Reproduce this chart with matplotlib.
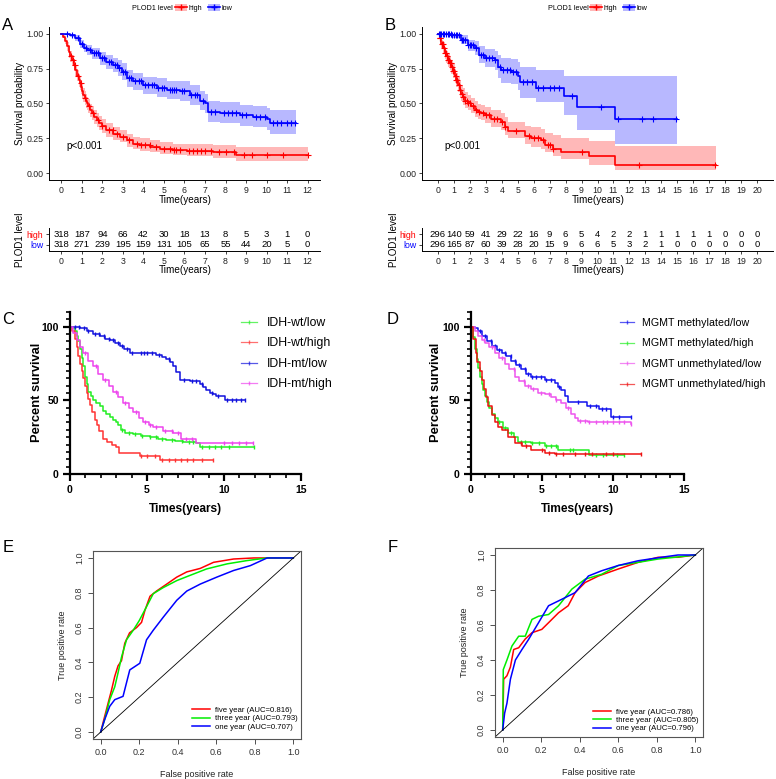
import numpy as np
import matplotlib
matplotlib.use("Agg")
import matplotlib.pyplot as plt
from matplotlib.patches import Patch
from matplotlib.lines import Line2D

plt.rcParams['font.family'] = ['Liberation Sans', 'DejaVu Sans']

# ---------------- data ----------------
# panel A (KM, PLOD1 high / low)
a_high_t = [0, 0.1, 0.2, 0.3, 0.37, 0.44, 0.52, 0.6, 0.68, 0.78, 0.87, 0.92, 0.97, 1.03, 1.08, 1.13, 1.18, 1.23,
            1.28, 1.38, 1.49, 1.6, 1.73, 1.85, 1.98, 2.2, 2.54, 2.87, 3.19, 3.5, 3.84, 4.32, 4.8, 5.46, 6.1, 7.4,
            8.5, 12.0]
a_high_s = [1.0, 0.98, 0.95, 0.91, 0.87, 0.84, 0.81, 0.78, 0.74, 0.70, 0.67, 0.645, 0.62, 0.59, 0.56, 0.54, 0.52,
            0.50, 0.48, 0.45, 0.43, 0.40, 0.38, 0.36, 0.34, 0.31, 0.28, 0.26, 0.235, 0.21, 0.20, 0.19, 0.175, 0.165,
            0.16, 0.15, 0.13, 0.13]
a_high_hi = [1.0, 0.99, 0.97, 0.94, 0.91, 0.88, 0.85, 0.82, 0.78, 0.74, 0.71, 0.69, 0.67, 0.64, 0.61, 0.59, 0.57,
             0.55, 0.53, 0.50, 0.48, 0.45, 0.43, 0.41, 0.39, 0.36, 0.33, 0.31, 0.28, 0.26, 0.25, 0.24, 0.22, 0.21,
             0.21, 0.20, 0.19, 0.19]
a_high_lo = [1.0, 0.97, 0.93, 0.88, 0.83, 0.80, 0.77, 0.74, 0.70, 0.66, 0.62, 0.60, 0.57, 0.54, 0.51, 0.49, 0.47,
             0.45, 0.43, 0.40, 0.38, 0.35, 0.33, 0.31, 0.29, 0.26, 0.24, 0.22, 0.19, 0.17, 0.16, 0.15, 0.14, 0.13,
             0.12, 0.11, 0.085, 0.085]
a_high_cens = [0.45, 0.55, 0.65, 0.8, 0.95, 1.15, 1.35, 1.55, 1.8, 2.0, 2.3, 2.5, 2.7, 3.0, 3.3, 3.7, 3.9, 4.1, 4.3,
               4.6, 5.0, 5.3, 5.5, 5.6, 5.8, 6.2, 6.4, 6.6, 6.8, 7.0, 7.3, 7.7, 8.0, 8.4, 8.9, 9.3, 10.0, 10.8, 12.0]

a_low_t = [0, 0.44, 0.68, 0.92, 1.1, 1.25, 1.5, 1.9, 2.2, 2.54, 2.75, 2.95, 3.19, 3.5, 4.0, 4.65, 5.13, 5.78, 6.27,
           6.75, 7.0, 7.16, 7.72, 8.7, 9.34, 10.0, 10.15, 11.45]
a_low_s = [1.0, 0.99, 0.97, 0.93, 0.90, 0.885, 0.86, 0.825, 0.80, 0.78, 0.755, 0.73, 0.68, 0.66, 0.63, 0.615, 0.596,
           0.59, 0.56, 0.52, 0.50, 0.44, 0.43, 0.415, 0.40, 0.385, 0.36, 0.36]
a_low_hi = [1.0, 1.0, 0.99, 0.96, 0.93, 0.92, 0.90, 0.87, 0.85, 0.83, 0.81, 0.79, 0.74, 0.72, 0.69, 0.68, 0.66, 0.66,
            0.63, 0.59, 0.57, 0.52, 0.51, 0.49, 0.48, 0.47, 0.45, 0.45]
a_low_lo = [1.0, 0.98, 0.95, 0.90, 0.87, 0.85, 0.82, 0.78, 0.75, 0.73, 0.70, 0.67, 0.62, 0.60, 0.57, 0.55, 0.53, 0.52,
            0.49, 0.45, 0.43, 0.37, 0.36, 0.34, 0.33, 0.31, 0.28, 0.28]
a_low_cens = [0.3, 0.5, 0.8, 1.0, 1.2, 1.4, 1.6, 1.7, 1.8, 2.0, 2.1, 2.3, 2.4, 2.6, 2.7, 2.8, 3.0, 3.1, 3.3, 3.4, 3.6,
              3.8, 3.9, 4.1, 4.2, 4.4, 4.5, 4.7, 4.9, 5.0, 5.3, 5.4, 5.5, 5.6, 5.9, 6.0, 6.3, 6.5, 6.6, 6.9, 7.3, 7.5,
              7.9, 8.1, 8.3, 8.5, 8.8, 9.0, 9.5, 9.7, 9.9, 10.3, 10.5, 10.7, 11.0, 11.2, 11.4]

# panel B
b_high_t = [0, 0.1, 0.2, 0.31, 0.42, 0.52, 0.63, 0.73, 0.84, 0.94, 1.04, 1.15, 1.25, 1.36, 1.46, 1.57, 1.67, 1.88,
            2.09, 2.3, 2.5, 2.72, 2.93, 3.34, 3.97, 4.18, 4.39, 5.43, 5.85, 6.48, 6.69, 7.2, 7.73, 9.45, 11.08, 17.45]
b_high_s = [1.0, 0.97, 0.93, 0.90, 0.86, 0.84, 0.81, 0.79, 0.76, 0.735, 0.70, 0.67, 0.63, 0.60, 0.57, 0.55, 0.52,
            0.50, 0.48, 0.455, 0.44, 0.43, 0.415, 0.39, 0.37, 0.33, 0.30, 0.265, 0.25, 0.235, 0.205, 0.175, 0.15,
            0.12, 0.06, 0.06]
b_high_hi = [1.0, 0.99, 0.96, 0.94, 0.90, 0.88, 0.86, 0.84, 0.81, 0.79, 0.75, 0.72, 0.69, 0.66, 0.63, 0.61, 0.58,
             0.56, 0.54, 0.52, 0.50, 0.49, 0.475, 0.45, 0.43, 0.40, 0.37, 0.34, 0.33, 0.32, 0.29, 0.27, 0.25, 0.23,
             0.195, 0.195]
b_high_lo = [1.0, 0.95, 0.90, 0.86, 0.82, 0.79, 0.76, 0.74, 0.71, 0.68, 0.65, 0.62, 0.58, 0.55, 0.52, 0.49, 0.47,
             0.45, 0.43, 0.40, 0.39, 0.38, 0.36, 0.33, 0.31, 0.27, 0.25, 0.21, 0.19, 0.17, 0.15, 0.12, 0.10, 0.06,
             0.02, 0.02]
b_high_cens = [0.1, 0.15, 0.25, 0.3, 0.35, 0.45, 0.5, 0.55, 0.65, 0.7, 0.75, 0.8, 0.9, 0.95, 1.0, 1.1, 1.15, 1.2,
               1.3, 1.4, 1.5, 1.6, 1.7, 1.8, 1.9, 2.0, 2.2, 2.4, 2.6, 2.8, 3.0, 3.2, 3.5, 3.7, 4.0, 4.2, 4.9, 5.7,
               6.0, 6.3, 6.6, 6.9, 7.0, 7.2, 9.0, 12.6, 17.35]
b_low_t = [0, 0.84, 1.46, 1.88, 2.3, 2.6, 2.93, 3.55, 3.76, 3.97, 4.6, 5.0, 5.12, 6.17, 7.9, 8.69, 11.08, 15.0]
b_low_s = [1.0, 0.99, 0.96, 0.92, 0.90, 0.85, 0.83, 0.81, 0.765, 0.74, 0.73, 0.70, 0.655, 0.615, 0.555, 0.475, 0.385,
           0.385]
b_low_hi = [1.0, 1.0, 0.99, 0.96, 0.95, 0.91, 0.89, 0.88, 0.85, 0.83, 0.82, 0.80, 0.76, 0.74, 0.70, 0.70, 0.70, 0.70]
b_low_lo = [1.0, 0.97, 0.93, 0.88, 0.85, 0.79, 0.76, 0.74, 0.68, 0.65, 0.64, 0.60, 0.54, 0.51, 0.42, 0.31, 0.21, 0.21]
b_low_cens = [0.05, 0.1, 0.2, 0.3, 0.4, 0.5, 0.6, 0.7, 0.8, 0.9, 1.0, 1.1, 1.2, 1.3, 1.5, 1.6, 1.7, 1.9, 2.0, 2.1,
              2.2, 2.4, 2.7, 2.8, 3.0, 3.2, 3.4, 3.6, 3.9, 4.1, 4.3, 4.5, 4.7, 4.9, 5.3, 5.6, 5.9, 6.3, 6.6, 7.0,
              7.3, 7.6, 8.4, 10.2, 11.3, 12.8, 13.5, 14.95]

# number at risk tables
a_tab_t = list(range(0, 13))
a_tab_high = [318, 187, 94, 66, 42, 30, 18, 13, 8, 5, 3, 1, 0]
a_tab_low = [318, 271, 239, 195, 159, 131, 105, 65, 55, 44, 20, 5, 0]
b_tab_t = list(range(0, 21))
b_tab_high = [296, 140, 59, 41, 29, 22, 16, 9, 6, 5, 4, 2, 2, 1, 1, 1, 1, 1, 0, 0, 0]
b_tab_low = [296, 165, 87, 60, 39, 28, 20, 15, 9, 6, 6, 5, 3, 2, 1, 0, 0, 0, 0, 0, 0]

# panel C (IDH x PLOD1)
c_wtlow_t = [0, 0.2, 0.32, 0.45, 0.54, 0.65, 0.76, 0.87, 0.97, 1.08, 1.19, 1.35, 1.5, 1.7, 1.94, 2.15, 2.37, 2.6,
             2.8, 3.0, 3.13, 3.28, 3.6, 4.1, 4.6, 5.18, 5.7, 6.26, 6.8, 7.34, 8.2, 8.42, 11.94]
c_wtlow_s = [100, 99, 97, 94, 90, 85, 79, 73, 66, 61, 56, 53, 50, 48, 46, 43, 41, 39, 37, 35, 33, 30, 28, 27, 26,
             25, 24, 23, 22.5, 22, 21, 18.6, 18.6]
c_wtlow_cens = [3.4, 3.8, 4.2, 4.7, 5.2, 5.6, 6.0, 6.6, 7.3, 7.7, 8.0, 8.6, 9.0, 9.4, 9.8, 10.3, 11.94]
c_wthigh_t = [0, 0.15, 0.3, 0.43, 0.55, 0.65, 0.75, 0.86, 0.97, 1.08, 1.19, 1.3, 1.45, 1.6, 1.73, 1.9, 2.16, 2.4,
              2.7, 3.0, 3.2, 4.54, 5.83, 9.29]
c_wthigh_s = [100, 97, 92, 86, 80, 75, 70, 65, 60, 55, 51, 47, 42, 37, 33, 29, 24, 22, 20, 18, 14.5, 12.5, 9.5, 9.5]
c_wthigh_cens = [4.6, 5.0, 5.5, 6.0, 6.4, 6.8, 7.2, 7.6, 8.0, 8.6, 9.29]
c_mtlow_t = [0, 0.65, 1.08, 1.5, 1.94, 2.3, 2.6, 2.9, 3.24, 3.5, 3.89, 4.75, 5.6, 6.0, 6.26, 6.5, 6.7, 6.9, 7.13,
             7.78, 8.42, 8.65, 8.86, 9.1, 9.29, 9.5, 10.04, 11.38]
c_mtlow_s = [100, 99, 97, 95, 94, 92, 91, 89, 87, 85, 82, 82, 81, 79.5, 78, 76, 73, 69, 64, 63, 61, 59, 57, 55, 54,
             53, 50, 50]
c_mtlow_cens = [0.3, 0.6, 0.9, 1.2, 1.6, 1.9, 2.2, 2.5, 2.8, 3.1, 3.4, 3.7, 4.0, 4.6, 4.8, 5.0, 5.3, 5.8, 6.4,
                7.4, 7.9, 8.2, 8.6, 9.2, 9.6, 10.2, 10.5, 10.8, 11.1, 11.38]
c_mthigh_t = [0, 0.2, 0.43, 0.65, 0.86, 1.2, 1.51, 1.85, 2.16, 2.5, 2.8, 3.1, 3.46, 3.8, 4.1, 4.45, 4.75, 5.1, 5.4,
              6.05, 6.7, 7.24, 8.2, 11.88]
c_mthigh_s = [100, 96, 91, 86, 82, 77, 73, 68, 64, 60, 56, 52, 48, 45, 42, 38, 35, 33, 32, 29, 28, 24, 21, 21]
c_mthigh_cens = [1.0, 1.7, 2.3, 3.0, 3.6, 4.3, 4.9, 5.2, 5.6, 6.2, 6.6, 7.0, 7.5, 7.9, 10.0, 10.5, 11.0, 11.4, 11.88]

# panel D (MGMT x PLOD1)
d_mlow_t = [0, 0.28, 0.5, 0.75, 1.1, 1.45, 1.8, 2.15, 2.5, 2.85, 3.2, 3.55, 3.9, 4.25, 5.19, 5.89, 6.1, 6.36, 6.6,
            6.82, 8.2, 9.0, 9.86, 11.26]
d_mlow_s = [100, 99, 97, 94, 90, 87, 84, 82, 80, 77, 74, 71, 68, 66, 64, 62, 59, 57, 53, 49, 46, 44, 39, 39]
d_mlow_cens = [0.6, 1.0, 1.4, 1.7, 2.0, 2.4, 2.8, 3.1, 3.4, 3.8, 4.0, 4.3, 4.6, 4.9, 5.3, 5.6, 6.2, 7.5, 8.4,
               8.8, 9.2, 9.5, 10.0, 10.4, 11.26]
d_ulow_t = [0, 0.25, 0.51, 0.75, 0.98, 1.3, 1.68, 2.0, 2.38, 2.7, 3.08, 3.4, 3.79, 4.2, 4.72, 5.2, 5.65, 6.0, 6.36,
            6.7, 7.06, 7.3, 7.52, 8.22, 11.26]
d_ulow_s = [100, 97, 94, 91, 89, 86, 82, 79, 75, 71, 66, 63, 60, 58, 55, 54, 52, 50, 48, 45, 41, 38, 36, 35, 34]
d_ulow_cens = [0.9, 1.5, 2.2, 3.0, 3.7, 4.0, 4.4, 4.9, 5.5, 6.0, 6.8, 7.7, 8.0, 8.3, 8.8, 9.3, 9.6, 10.0, 10.4,
               10.8, 11.26]
d_mhigh_t = [0, 0.15, 0.28, 0.4, 0.5, 0.63, 0.75, 0.86, 0.98, 1.1, 1.25, 1.45, 1.7, 1.92, 2.25, 2.62, 3.0, 3.32,
             4.25, 5.19, 6.12, 8.34, 10.8]
d_mhigh_s = [100, 93, 85, 78, 72, 66, 61, 57, 53, 49, 45, 41, 38, 35, 31, 28, 25, 22, 21, 19, 16.4, 13, 13]
d_mhigh_cens = [2.0, 2.4, 2.8, 3.5, 3.8, 4.3, 4.8, 5.3, 5.6, 6.0, 7.0, 7.2, 8.8, 9.3, 10.3, 10.8]
d_uhigh_t = [0, 0.15, 0.33, 0.45, 0.6, 0.75, 0.9, 1.05, 1.21, 1.45, 1.68, 1.9, 2.15, 2.62, 3.08, 3.6, 4.25, 5.19,
             5.89, 11.96]
d_uhigh_s = [100, 92, 82, 76, 70, 64, 58, 52, 46, 40, 35, 32, 30, 25, 21, 19, 16.4, 14.5, 13.4, 13.4]
d_uhigh_cens = [3.5, 3.9, 5.0, 5.5, 6.0, 6.5, 7.3, 8.0, 8.5, 9.5, 10.0, 11.96]

# panel E (ROC)
e5_fpr = [0, 0.012, 0.03, 0.056, 0.073, 0.09, 0.108, 0.125, 0.15, 0.186, 0.212, 0.23, 0.256, 0.29, 0.343, 0.395,
          0.447, 0.517, 0.586, 0.69, 0.795, 1.0]
e5_tpr = [0, 0.053, 0.13, 0.24, 0.32, 0.38, 0.41, 0.51, 0.57, 0.60, 0.63, 0.70, 0.78, 0.81, 0.85, 0.89, 0.92, 0.94,
          0.975, 0.994, 1.0, 1.0]
e3_fpr = [0, 0.02, 0.047, 0.073, 0.09, 0.108, 0.134, 0.169, 0.2, 0.238, 0.273, 0.325, 0.395, 0.464, 0.55, 0.656,
          0.76, 0.864, 1.0]
e3_tpr = [0, 0.07, 0.186, 0.26, 0.34, 0.43, 0.53, 0.585, 0.64, 0.72, 0.795, 0.83, 0.87, 0.90, 0.937, 0.966, 0.985,
          1.0, 1.0]
e1_fpr = [0, 0.02, 0.047, 0.073, 0.116, 0.151, 0.203, 0.238, 0.273, 0.325, 0.395, 0.447, 0.517, 0.603, 0.69,
          0.777, 0.864, 1.0]
e1_tpr = [0, 0.07, 0.148, 0.186, 0.205, 0.357, 0.395, 0.53, 0.585, 0.66, 0.757, 0.81, 0.85, 0.89, 0.928, 0.956,
          1.0, 1.0]
e_labels = ['five year (AUC=0.816)', 'three year (AUC=0.793)', 'one year (AUC=0.707)']

# panel F (ROC)
f5_fpr = [0, 0.005, 0.022, 0.04, 0.057, 0.083, 0.117, 0.152, 0.203, 0.238, 0.29, 0.34, 0.376, 0.428, 0.497, 0.6,
          0.703, 0.807, 0.91, 1.0]
f5_tpr = [0, 0.29, 0.31, 0.36, 0.46, 0.47, 0.52, 0.556, 0.575, 0.613, 0.67, 0.71, 0.785, 0.843, 0.88, 0.92, 0.958,
          0.987, 0.987, 1.0]
f3_fpr = [0, 0.003, 0.022, 0.048, 0.083, 0.117, 0.152, 0.186, 0.238, 0.29, 0.359, 0.428, 0.514, 0.6, 0.703, 0.807,
          0.893, 1.0]
f3_tpr = [0, 0.345, 0.40, 0.48, 0.536, 0.536, 0.632, 0.65, 0.66, 0.71, 0.805, 0.862, 0.89, 0.94, 0.958, 0.977,
          0.987, 1.0]
f1_fpr = [0, 0.01, 0.022, 0.04, 0.066, 0.1, 0.134, 0.186, 0.238, 0.307, 0.376, 0.445, 0.514, 0.6, 0.703, 0.824,
          0.91, 1.0]
f1_tpr = [0, 0.096, 0.153, 0.29, 0.40, 0.46, 0.517, 0.613, 0.71, 0.747, 0.785, 0.88, 0.91, 0.94, 0.967, 0.987,
          1.0, 1.0]
f_labels = ['five year (AUC=0.786)', 'three year (AUC=0.805)', 'one year (AUC=0.796)']

# ---------------- figure ----------------
W, H = 776, 779
fig = plt.figure(figsize=(W / 100, H / 100), dpi=100)


def px_axes(left, top, right, bottom):
    return fig.add_axes([left / W, 1 - bottom / H, (right - left) / W, (bottom - top) / H])


def ftext(x, y, s, **kw):
    fig.text(x / W, 1 - y / H, s, **kw)


def step_at(t, s, c):
    idx = np.searchsorted(t, c, side='right') - 1
    return np.asarray(s)[idx]


def km_panel(left, right, xmax, curves, p_x):
    ax = px_axes(left, 27, right, 180)
    for t, s, lo, hi, cens, col in curves:
        ax.fill_between(t, lo, hi, step='post', color=col, alpha=0.28, lw=0)
        ax.step(t, s, where='post', color=col, lw=1.2)
        ax.plot(cens, step_at(t, s, cens), ls='none', marker='+', ms=5, mew=0.8, color=col)
    ax.set_xlim(-0.05 * xmax, 1.05 * xmax)
    ax.set_ylim(-0.05, 1.05)
    ax.set_xticks(range(0, xmax + 1))
    ax.set_yticks([0, 0.25, 0.5, 0.75, 1.0])
    ax.set_yticklabels(['0.00', '0.25', '0.50', '0.75', '1.00'])
    for sp in ['top', 'right']:
        ax.spines[sp].set_visible(False)
    for sp in ['left', 'bottom']:
        ax.spines[sp].set_linewidth(0.7)
    ax.tick_params(labelsize=6.3, length=2.5, width=0.6, pad=1.5, colors='#222222')
    ax.text(p_x, 0.195, 'p<0.001', fontsize=7.1, ha='left', va='center')
    return ax


def risk_table(left, right, xmax, tt, high, low):
    ax = px_axes(left, 228, right, 251)
    for t, h, l in zip(tt, high, low):
        ax.text(t, 2, str(h), ha='center', va='center', fontsize=6.8)
        ax.text(t, 1, str(l), ha='center', va='center', fontsize=6.8)
    ax.set_xlim(-0.05 * xmax, 1.05 * xmax)
    ax.set_ylim(0.45, 2.55)
    ax.set_xticks(range(0, xmax + 1))
    ax.set_yticks([1, 2])
    ax.set_yticklabels(['low', 'high'])
    for sp in ['top', 'right']:
        ax.spines[sp].set_visible(False)
    for sp in ['left', 'bottom']:
        ax.spines[sp].set_linewidth(0.7)
    ax.tick_params(labelsize=6.3, length=2.5, width=0.6, pad=1.5, colors='#222222')
    ax.get_yticklabels()[0].set_color('blue')
    ax.get_yticklabels()[1].set_color('red')
    return ax


def km_legend(x_title, x_leg):
    ftext(x_title, 8, 'PLOD1 level', fontsize=5.2, va='center', ha='left')
    hh = [(Patch(color='red', alpha=0.28, lw=0), Line2D([], [], color='red', lw=1.2, marker='+', ms=5)),
          (Patch(color='blue', alpha=0.28, lw=0), Line2D([], [], color='blue', lw=1.2, marker='+', ms=5))]
    fig.legend(hh, ['high', 'low'], loc='center left', bbox_to_anchor=(x_leg / W, 1 - 8 / H), ncol=2,
               frameon=False, fontsize=5.2, handlelength=1.6, handleheight=1.2, handletextpad=0.3,
               columnspacing=0.8, borderpad=0, borderaxespad=0)


# ---- A ----
km_panel(49, 320, 12, [(a_high_t, a_high_s, a_high_lo, a_high_hi, a_high_cens, 'red'),
                       (a_low_t, a_low_s, a_low_lo, a_low_hi, a_low_cens, 'blue')], 0.23)
risk_table(49, 320, 12, a_tab_t, a_tab_high, a_tab_low)
ftext(20, 103, 'Survival probability', rotation=90, fontsize=7.1, ha='center', va='center')
ftext(185, 200, 'Time(years)', fontsize=7.2, ha='center', va='center')
ftext(20, 240, 'PLOD1 level', rotation=90, fontsize=7, ha='center', va='center')
ftext(185, 270, 'Time(years)', fontsize=7.2, ha='center', va='center')
km_legend(132, 175)

# ---- B ----
km_panel(422, 773, 20, [(b_high_t, b_high_s, b_high_lo, b_high_hi, b_high_cens, 'red'),
                        (b_low_t, b_low_s, b_low_lo, b_low_hi, b_low_cens, 'blue')], 0.38)
risk_table(422, 773, 20, b_tab_t, b_tab_high, b_tab_low)
ftext(393, 103, 'Survival probability', rotation=90, fontsize=7.1, ha='center', va='center')
ftext(598, 200, 'Time(years)', fontsize=7.2, ha='center', va='center')
ftext(394, 240, 'PLOD1 level', rotation=90, fontsize=7, ha='center', va='center')
ftext(598, 270, 'Time(years)', fontsize=7.2, ha='center', va='center')
km_legend(548, 590)


# ---- C / D (Prism style) ----
def prism_panel(left, right, curves, ylab_x, xlab_x, leg_x, leg_fs, leg_sp, leg_top):
    ax = px_axes(left, 312, right, 474)
    handles = []
    for t, s, cens, col, lab in curves:
        ax.step(t, s, where='post', color=col, lw=1.1)
        ax.plot(cens, step_at(t, s, cens), ls='none', marker='|', ms=3.5, mew=1.0, color=col)
        handles.append(Line2D([], [], color=col, lw=0.9, alpha=0.7, marker='|', ms=3.5, mew=1.0,
                              markeredgecolor=col))
    ax.set_xlim(0, 15)
    ax.set_ylim(0, 110)
    ax.set_xticks([0, 5, 10, 15])
    ax.set_xticks(range(0, 16), minor=True)
    ax.set_yticks([0, 50, 100])
    ax.set_yticks(range(0, 111, 5), minor=True)
    for sp in ['top', 'right']:
        ax.spines[sp].set_visible(False)
    for sp in ['left', 'bottom']:
        ax.spines[sp].set_linewidth(1.6)
    ax.tick_params(which='major', length=5, width=1.6, labelsize=7.6, pad=3)
    ax.tick_params(which='minor', length=3, width=1.2)
    for lb in ax.get_xticklabels() + ax.get_yticklabels():
        lb.set_fontweight('bold')
    ftext(ylab_x, 392, 'Percent survival', rotation=90, fontsize=9.3, fontweight='bold', ha='center', va='center')
    ftext(xlab_x, 509, 'Times(years)', fontsize=8.6, fontweight='bold', ha='center', va='center')
    fig.legend(handles, [c[4] for c in curves], loc='upper left', bbox_to_anchor=(leg_x / W, 1 - leg_top / H),
               frameon=False, fontsize=leg_fs, handlelength=1.3, handletextpad=0.8, labelspacing=leg_sp,
               borderpad=0, borderaxespad=0)
    return ax


prism_panel(70, 301, [(c_wtlow_t, c_wtlow_s, c_wtlow_cens, '#22ee22', 'IDH-wt/low'),
                      (c_wthigh_t, c_wthigh_s, c_wthigh_cens, '#ff3333', 'IDH-wt/high'),
                      (c_mtlow_t, c_mtlow_s, c_mtlow_cens, '#1111dd', 'IDH-mt/low'),
                      (c_mthigh_t, c_mthigh_s, c_mthigh_cens, '#ee44ee', 'IDH-mt/high')],
            37, 185, 241, 8.8, 0.69, 317)
prism_panel(471, 684, [(d_mlow_t, d_mlow_s, d_mlow_cens, '#1111ee', 'MGMT methylated/low'),
                       (d_mhigh_t, d_mhigh_s, d_mhigh_cens, '#22ee22', 'MGMT methylated/high'),
                       (d_ulow_t, d_ulow_s, d_ulow_cens, '#ee55ee', 'MGMT unmethylated/low'),
                       (d_uhigh_t, d_uhigh_s, d_uhigh_cens, '#ee1111', 'MGMT unmethylated/high')],
            436, 577, 620, 7.7, 0.98, 318)


# ---- E / F (ROC) ----
def roc_panel(left, top, right, bottom, curves, labels, leg_anchor):
    ax = px_axes(left, top, right, bottom)
    cols = ['red', '#00ee00', 'blue']
    for (x, y), col, lab in zip(curves, cols, labels):
        ax.plot(x, y, color=col, lw=1.1, label=lab)
    ax.axline((0, 0), (1, 1), color='black', lw=0.6)
    ax.set_xlim(-0.04, 1.04)
    ax.set_ylim(-0.04, 1.04)
    ticks = [0, 0.2, 0.4, 0.6, 0.8, 1.0]
    ax.set_xticks(ticks)
    ax.set_yticks(ticks)
    ax.set_xticklabels(['%.1f' % v for v in ticks])
    ax.set_yticklabels(['%.1f' % v for v in ticks], rotation=90, va='center')
    for sp in ax.spines.values():
        sp.set_linewidth(0.8)
        sp.set_color('#555555')
    ax.tick_params(labelsize=6.5, length=3.5, width=0.6, pad=3, colors='#333333')
    ax.set_xlabel('False positive rate', fontsize=6.5, color='#222222', labelpad=9)
    ax.set_ylabel('True positive rate', fontsize=6.5, color='#222222', labelpad=6)
    ax.legend(loc='lower left', bbox_to_anchor=leg_anchor, frameon=False, fontsize=5.6, handlelength=2.3,
              handletextpad=0.6, labelspacing=0.1, borderpad=0, borderaxespad=0)
    return ax


roc_panel(93, 551, 301, 739, [(e5_fpr, e5_tpr), (e3_fpr, e3_tpr), (e1_fpr, e1_tpr)], e_labels, (0.476, 0.045))
roc_panel(495, 548, 703, 737, [(f5_fpr, f5_tpr), (f3_fpr, f3_tpr), (f1_fpr, f1_tpr)], f_labels, (0.471, 0.025))

# panel letters
for lab, x, y in [('A', 8, 26), ('B', 390, 26), ('C', 8, 320), ('D', 393, 320), ('E', 8, 548), ('F', 393, 548)]:
    ftext(x, y, lab, fontsize=12, ha='center', va='center')

fig.savefig('out.png', dpi=100)
